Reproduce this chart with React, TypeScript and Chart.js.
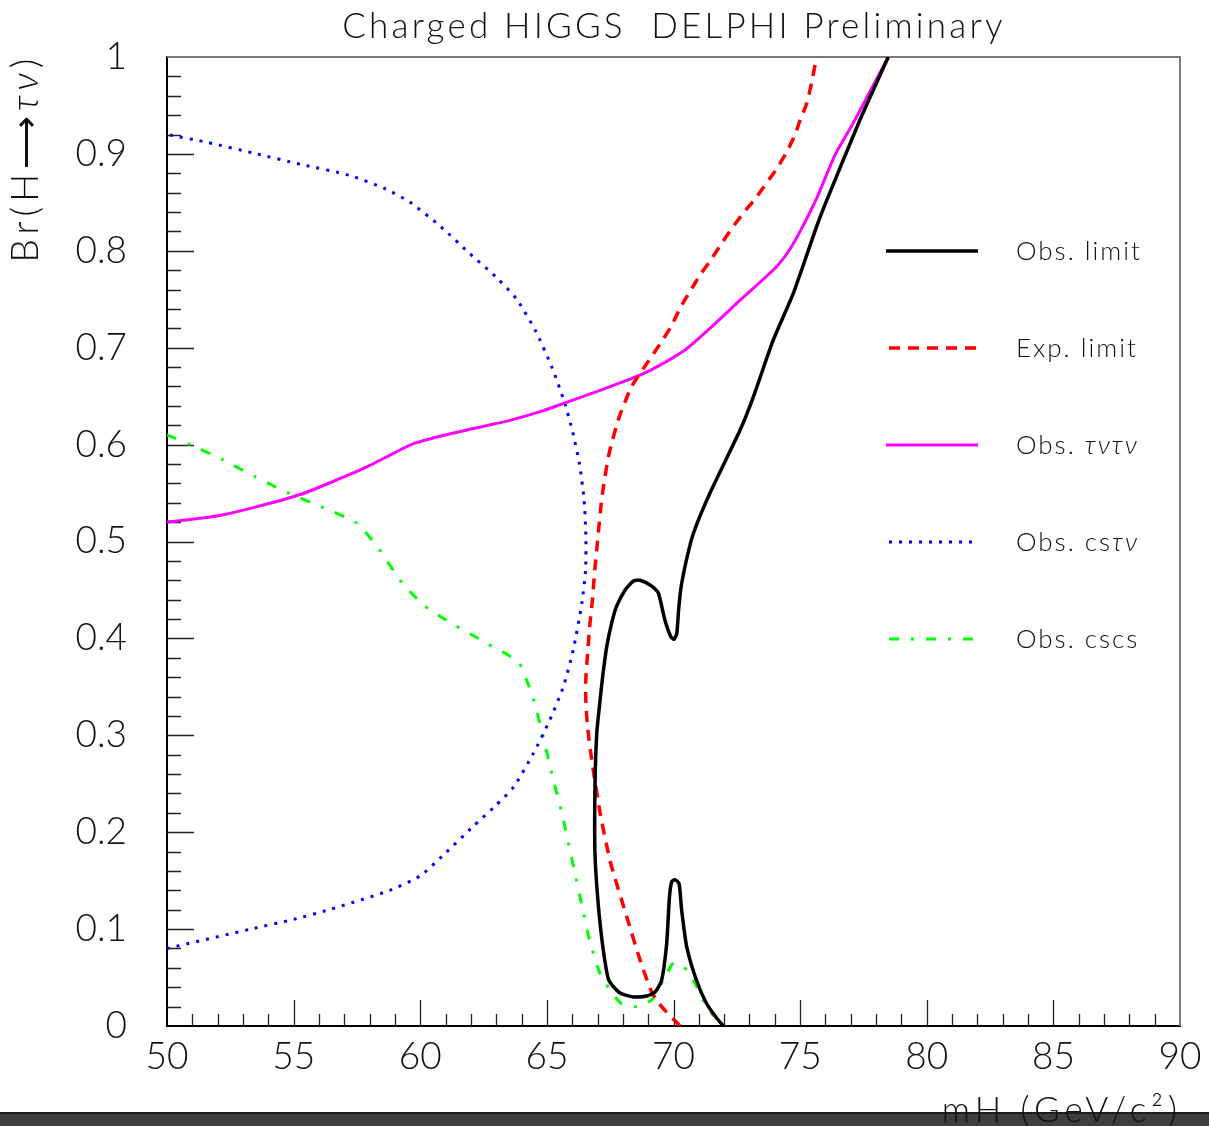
import React, { useEffect, useRef } from "react";
import { Chart, registerables } from "chart.js";

Chart.register(...registerables);

// ---------- axes ----------
const xMin = 50;
const xMax = 90;
const yMin = 0;
const yMax = 1;
const xTickValues = [50, 55, 60, 65, 70, 75, 80, 85, 90];
const yTickValues = [0, 0.1, 0.2, 0.3, 0.4, 0.5, 0.6, 0.7, 0.8, 0.9, 1];
const xMinorStep = 1;
const yMinorStep = 0.02;

const titleText = "Charged HIGGS  DELPHI Preliminary";
const xTitleText = "mH (GeV/c²)";

// ---------- series ----------
// Obs. limit (black, solid)
const obsLimitX = [78.48, 77.36, 76.05, 75.65, 74.73, 73.94, 73.15, 72.63, 71.44, 70.78, 70.52, 70.3, 70.2, 70.13, 70.02, 69.89, 69.66, 69.4, 69.14, 68.68, 68.41, 68.09, 67.75, 67.56, 67.36, 67.2, 67.1, 66.97, 66.9, 66.9, 67.03, 67.23, 67.45, 67.89, 68.41, 68.94, 69.27, 69.53, 69.73, 69.84, 69.93, 70.06, 70.22, 70.32, 70.52, 70.91, 71.31, 71.71, 71.97];
const obsLimitY = [1.0, 0.935, 0.852, 0.825, 0.756, 0.708, 0.649, 0.615, 0.55, 0.508, 0.482, 0.453, 0.429, 0.405, 0.399, 0.402, 0.419, 0.447, 0.454, 0.46, 0.459, 0.45, 0.433, 0.416, 0.391, 0.36, 0.336, 0.302, 0.247, 0.178, 0.125, 0.078, 0.047, 0.034, 0.03, 0.031, 0.035, 0.047, 0.085, 0.133, 0.149, 0.151, 0.147, 0.12, 0.082, 0.047, 0.023, 0.008, 0.0];

// Exp. limit (red, dashed)
const expLimitX = [70.26, 69.53, 69.14, 68.68, 68.15, 67.56, 67.43, 67.1, 66.77, 66.6, 66.54, 66.53, 66.61, 66.7, 66.8, 66.88, 67.0, 67.17, 67.45, 67.85, 68.35, 68.9, 69.45, 69.93, 70.26, 70.65, 71.05, 71.51, 71.91, 72.3, 72.76, 73.29, 74.08, 74.47, 74.8, 75.0, 75.26, 75.45, 75.65];
const expLimitY = [0.0, 0.02, 0.035, 0.068, 0.113, 0.164, 0.178, 0.22, 0.275, 0.31, 0.335, 0.354, 0.385, 0.415, 0.44, 0.467, 0.5, 0.545, 0.59, 0.628, 0.66, 0.682, 0.703, 0.723, 0.741, 0.758, 0.775, 0.792, 0.808, 0.823, 0.839, 0.856, 0.885, 0.902, 0.92, 0.935, 0.952, 0.973, 1.0];

// Obs. tau nu tau nu (magenta, solid)
const tauTauX = [50, 51.9, 53.41, 55.32, 56.7, 57.89, 58.94, 59.73, 61.31, 63.54, 64.86, 65.72, 67.1, 68.7, 69.47, 70.52, 71.44, 72.63, 74.01, 74.53, 75.0, 75.65, 76.38, 77.1, 78.48];
const tauTauY = [0.52, 0.526, 0.535, 0.549, 0.5635, 0.577, 0.591, 0.601, 0.612, 0.625, 0.635, 0.643, 0.656, 0.672, 0.682, 0.699, 0.72, 0.749, 0.782, 0.799, 0.82, 0.854, 0.899, 0.932, 1.0];

// Obs. cs tau nu (blue, dotted)
const csTauX = [50, 53.3, 55, 56.4, 58.8, 60, 60.98, 62.09, 63.0, 63.7, 64.46, 65.12, 65.65, 66.04, 66.38, 66.53, 66.54, 66.47, 66.28, 66.0, 65.68, 65.18, 64.56, 63.81, 63.03, 61.92, 60.81, 59.6, 58.62, 57.19, 55.32, 53.45, 51.57, 50];
const csTauY = [0.08, 0.1, 0.11, 0.12, 0.14, 0.155, 0.178, 0.206, 0.228, 0.247, 0.281, 0.316, 0.35, 0.388, 0.436, 0.471, 0.505, 0.543, 0.581, 0.615, 0.645, 0.681, 0.717, 0.75, 0.772, 0.798, 0.825, 0.85, 0.864, 0.878, 0.889, 0.9006, 0.912, 0.92];

// Obs. cscs (green, dash-dot)
const cscsX = [50, 50.91, 52.16, 53.47, 54.79, 56.17, 57.49, 58.41, 59.2, 60.19, 61.41, 62.69, 63.87, 64.2, 64.44, 64.8, 65.25, 65.59, 66.08, 66.38, 66.68, 67.1, 67.5, 67.95, 68.55, 69.14, 69.6, 70.0, 70.52, 70.91, 71.3, 71.6];
const cscsY = [0.61, 0.6, 0.585, 0.567, 0.55, 0.535, 0.519, 0.491, 0.46, 0.433, 0.413, 0.394, 0.376, 0.357, 0.34, 0.305, 0.254, 0.22, 0.161, 0.125, 0.089, 0.054, 0.037, 0.023, 0.02, 0.027, 0.047, 0.065, 0.058, 0.041, 0.02, 0.01];

type Seg = { t: string; italic?: boolean };
const legendLabels: Seg[][] = [
  [{ t: "Obs. limit" }],
  [{ t: "Exp. limit" }],
  [{ t: "Obs. " }, { t: "τντν", italic: true }],
  [{ t: "Obs. cs" }, { t: "τν", italic: true }],
  [{ t: "Obs. cscs" }],
];
const yTitleSegs: Seg[] = [{ t: "Br(H" }, { t: "⟶" }, { t: "τν", italic: true }, { t: ")" }];

const FONT = "Lato";
const WEIGHT = "300";
const W = 1209;
const H = 1126;

const pts = (xs: number[], ys: number[]) => xs.map((x, i) => ({ x, y: ys[i] }));

function font(size: number, italic = false) {
  return `${italic ? "italic " : ""}${WEIGHT} ${size}px ${FONT}`;
}

function segWidth(ctx: CanvasRenderingContext2D, segs: Seg[], size: number) {
  let w = 0;
  for (const s of segs) {
    ctx.font = font(size, s.italic);
    w += ctx.measureText(s.t).width;
  }
  return w;
}

function drawSegs(ctx: CanvasRenderingContext2D, segs: Seg[], x: number, y: number, size: number) {
  let cx = x;
  for (const s of segs) {
    ctx.font = font(size, s.italic);
    ctx.fillText(s.t, cx, y);
    cx += ctx.measureText(s.t).width;
  }
}

const decorPlugin = {
  id: "decor",
  beforeDraw(chart: any) {
    const ctx: CanvasRenderingContext2D = chart.ctx;
    ctx.save();
    ctx.fillStyle = "#ffffff";
    ctx.fillRect(0, 0, chart.width, chart.height);
    ctx.restore();
  },
  beforeDatasetsDraw(chart: any) {
    const ctx: CanvasRenderingContext2D = chart.ctx;
    const xs = chart.scales.x;
    const ys = chart.scales.y;
    const { left, right, top, bottom } = chart.chartArea;
    ctx.save();
    // top and right frame
    ctx.strokeStyle = "#7a7a7a";
    ctx.lineWidth = 2;
    ctx.beginPath();
    ctx.moveTo(left, top);
    ctx.lineTo(right, top);
    ctx.lineTo(right, bottom);
    ctx.stroke();
    // inward ticks
    ctx.strokeStyle = "#222";
    ctx.lineWidth = 1.3;
    ctx.beginPath();
    const nx = Math.round((xMax - xMin) / xMinorStep);
    for (let i = 1; i < nx; i++) {
      const v = xMin + i * xMinorStep;
      const px = Math.round(xs.getPixelForValue(v)) + 0.5;
      const major = xTickValues.includes(v);
      ctx.moveTo(px, bottom);
      ctx.lineTo(px, bottom - (major ? 26 : 12));
    }
    const ny = Math.round((yMax - yMin) / yMinorStep);
    for (let i = 1; i < ny; i++) {
      const v = yMin + i * yMinorStep;
      const py = Math.round(ys.getPixelForValue(v)) + 0.5;
      const major = i % 5 === 0;
      ctx.moveTo(left, py);
      ctx.lineTo(left + (major ? 27 : 14), py);
    }
    ctx.stroke();
    ctx.restore();
  },
  afterDraw(chart: any) {
    const ctx: CanvasRenderingContext2D = chart.ctx;
    ctx.save();
    // bottom dark bar
    ctx.fillStyle = "#3d3d3d";
    ctx.fillRect(0, 1112, chart.width, H - 1112);
    ctx.fillStyle = "#1c1c1c";
    ctx.fillRect(0, 1112, chart.width, 2);

    ctx.fillStyle = "#111";
    ctx.textBaseline = "alphabetic";
    // title
    ctx.font = font(35);
    (ctx as any).letterSpacing = "3.2px";
    ctx.textAlign = "center";
    ctx.fillText(titleText, 674, 38);

    // x title (right aligned to plot edge)
    ctx.textAlign = "right";
    (ctx as any).letterSpacing = "5px";
    ctx.fillText(xTitleText, 1182, 1122);

    // y title rotated
    ctx.textAlign = "left";
    (ctx as any).letterSpacing = "5px";
    const tw = segWidth(ctx, yTitleSegs, 37);
    ctx.translate(38, 158);
    ctx.rotate(-Math.PI / 2);
    drawSegs(ctx, yTitleSegs, -tw / 2, 0, 37);
    ctx.setTransform(1, 0, 0, 1, 0, 0);

    // legend
    const legendY = [251, 348, 445, 542, 639];
    chart.data.datasets.forEach((ds: any, i: number) => {
      const y = legendY[i];
      ctx.save();
      ctx.strokeStyle = ds.borderColor;
      ctx.lineWidth = ds.borderWidth;
      ctx.setLineDash(ds.borderDash || []);
      ctx.beginPath();
      ctx.moveTo(ds.borderDash && ds.borderDash.length ? 889 : 886, y);
      ctx.lineTo(978, y);
      ctx.stroke();
      ctx.restore();
      ctx.fillStyle = "#111";
      (ctx as any).letterSpacing = "2px";
      drawSegs(ctx, legendLabels[i], 1016, y + 9, 26);
    });
    ctx.restore();
  },
};

export default function App() {
  const ref = useRef<HTMLCanvasElement | null>(null);
  useEffect(() => {
    if (!ref.current) return;
    const tickFont = { family: FONT, size: 37, weight: WEIGHT as any };
    const chart = new Chart(ref.current, {
      type: "scatter",
      data: {
        datasets: [
          { label: "Obs. limit", data: pts(obsLimitX, obsLimitY), borderColor: "#000000", borderWidth: 3.5, showLine: true, pointRadius: 0, tension: 0.2, borderDash: [] },
          { label: "Exp. limit", data: pts(expLimitX, expLimitY), borderColor: "#ff0000", borderWidth: 3.5, showLine: true, pointRadius: 0, tension: 0.2, borderDash: [11, 8] },
          { label: "Obs. tau nu tau nu", data: pts(tauTauX, tauTauY), borderColor: "#ff00ff", borderWidth: 3, showLine: true, pointRadius: 0, tension: 0.2, borderDash: [] },
          { label: "Obs. cs tau nu", data: pts(csTauX, csTauY), borderColor: "#0000ff", borderWidth: 3, showLine: true, pointRadius: 0, tension: 0.2, borderDash: [3, 7] },
          { label: "Obs. cscs", data: pts(cscsX, cscsY), borderColor: "#00ff00", borderWidth: 3, showLine: true, pointRadius: 0, tension: 0.2, borderDash: [10, 12, 3, 12] },
        ],
      },
      options: {
        responsive: false,
        maintainAspectRatio: false,
        animation: false,
        events: [],
        layout: { padding: { top: 57, right: 29, left: 0, bottom: 0 } },
        plugins: { legend: { display: false }, tooltip: { enabled: false }, title: { display: false } },
        scales: {
          x: {
            type: "linear",
            min: xMin,
            max: xMax,
            afterBuildTicks: (s: any) => { s.ticks = xTickValues.map((v) => ({ value: v })); },
            afterFit: (s: any) => { s.height = 100; s.paddingLeft = 0; s.paddingRight = 0; },
            grid: { display: false, drawTicks: false },
            border: { display: true, color: "#000", width: 2 },
            ticks: { font: tickFont, color: "#111", padding: 9, maxRotation: 0, autoSkip: false, callback: (v: any) => String(v) },
          },
          y: {
            type: "linear",
            min: yMin,
            max: yMax,
            afterBuildTicks: (s: any) => { s.ticks = yTickValues.map((v) => ({ value: v })); },
            afterFit: (s: any) => { s.width = 167; s.paddingTop = 0; s.paddingBottom = 0; },
            grid: { display: false, drawTicks: false },
            border: { display: true, color: "#000", width: 2 },
            ticks: { font: tickFont, color: "#111", padding: 40, autoSkip: false, callback: (v: any) => (v === 0 ? "0" : v === 1 ? "1" : Number(v).toFixed(1)) },
          },
        },
      } as any,
      plugins: [decorPlugin],
    });
    return () => chart.destroy();
  }, []);
  return (
    <div style={{ position: "absolute", left: 0, top: 0, width: W, height: H, background: "#fff" }}>
      <canvas ref={ref} width={W} height={H} style={{ width: W, height: H, display: "block" }} />
    </div>
  );
}
